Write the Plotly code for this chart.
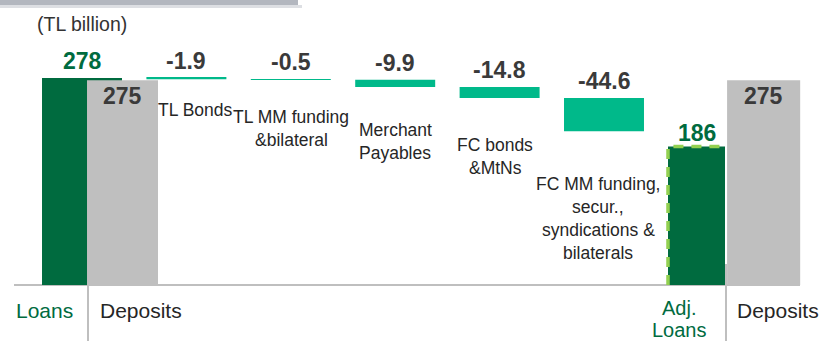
import plotly.graph_objects as go

# ---- data (TL billion) ----
unit_label = "(TL billion)"
start_label = "Loans"
start_value = 278
deposits_label = "Deposits"
deposits_value = 275
step_labels = [
    ["TL Bonds"],
    ["TL MM funding", "&bilateral"],
    ["Merchant", "Payables"],
    ["FC bonds", "&MtNs"],
    ["FC MM funding,", "secur.,", "syndications &", "bilaterals"],
]
step_values = [-1.9, -0.5, -9.9, -14.8, -44.6]
end_label = ["Adj.", "Loans"]
end_value = 186

# ---- layout constants ----
W, H = 824, 341
PLOT_H = 285                  # plot area height in px (baseline at bottom)
SLOT0_PX, SLOT_PX = 82, 104.4  # x of first slot centre, slot spacing
PX_PER_UNIT = 0.745

GREEN = "#006B3F"
TEAL = "#00B98A"
GREY = "#BFBFBF"
LIME = "#92D050"
TXT = "#262626"
NUM = "#3A3A3A"

FONT = "Liberation Sans, Arial, sans-serif"


def px(p):
    return p / W


def py(p):
    return (PLOT_H - p) / PLOT_H


STEP_W, STEP_OFF = 0.766, -0.383
DEP1_OFF, DEP1_W = 0.048, 0.68
ADJ_OFF, ADJ_W = -0.387, 0.546
DEP2_OFF, DEP2_W = 0.179, 0.70

n_steps = len(step_values)
end_slot = n_steps + 1

# running totals for the floating steps
bases = []
run = start_value
for v in step_values:
    bases.append(run)
    run += v

fig = go.Figure()

fig.add_trace(go.Bar(x=[0], y=[start_value], width=STEP_W, offset=STEP_OFF,
                     marker=dict(color=GREEN, line=dict(width=0))))
fig.add_trace(go.Bar(x=[0], y=[deposits_value], width=DEP1_W, offset=DEP1_OFF,
                     marker=dict(color=GREY, line=dict(width=0))))
fig.add_trace(go.Bar(x=list(range(1, n_steps + 1)), y=step_values, base=bases,
                     width=STEP_W, offset=STEP_OFF,
                     marker=dict(color=TEAL, line=dict(width=0))))
fig.add_trace(go.Bar(x=[end_slot], y=[end_value], width=ADJ_W, offset=ADJ_OFF,
                     marker=dict(color=GREEN, line=dict(width=0))))
# dashed outline on the adjusted-loans bar
xl = end_slot + ADJ_OFF
xr = end_slot + ADJ_OFF + ADJ_W
fig.add_trace(go.Scatter(x=[xl, xl, xr], y=[0, end_value, end_value], mode="lines",
                         line=dict(color=LIME, width=3.5, dash="10px,8px"),
                         hoverinfo="skip", cliponaxis=False))
fig.add_trace(go.Bar(x=[end_slot], y=[deposits_value], width=DEP2_W, offset=DEP2_OFF,
                     marker=dict(color=GREY, line=dict(width=0))))

annotations = []


def num_label(x, y, text, color, anchor="bottom", shift=0):
    annotations.append(dict(
        x=x, y=y, xref="x", yref="y", text=text, showarrow=False,
        xanchor="center", yanchor=anchor, yshift=shift,
        font=dict(family=FONT, size=23, color=color, weight="bold")))


num_label(0, start_value, f"{start_value:.0f}", GREEN, shift=2)
num_label(DEP1_OFF + DEP1_W / 2, deposits_value, f"{deposits_value:.0f}", NUM, "top", -1)
for i, (b, v) in enumerate(zip(bases, step_values)):
    num_label(i + 1, b, f"{v:.1f}", NUM, shift=2)
num_label(end_slot + ADJ_OFF + ADJ_W / 2, end_value, f"{end_value:.0f}", GREEN, shift=-2)
num_label(end_slot + DEP2_OFF + DEP2_W / 2, deposits_value, f"{deposits_value:.0f}", NUM, "top", -1)

# step caption placement: (centre x px, first line centre y px)
step_caption_pos = [(195, 110), (291, 117), (395, 130), (495, 145), (598, 184)]
LINE_PX = 23
for lines, (cx, cy) in zip(step_labels, step_caption_pos):
    for k, line in enumerate(lines):
        annotations.append(dict(
            x=px(cx), y=py(cy + k * LINE_PX), xref="paper", yref="paper",
            text=line, showarrow=False, xanchor="center", yanchor="middle",
            font=dict(family=FONT, size=17.5, color=TXT)))


def bottom_label(text, cx, cy, color, size=21):
    annotations.append(dict(
        x=px(cx), y=py(cy), xref="paper", yref="paper", text=text,
        showarrow=False, xanchor="center", yanchor="middle", borderpad=0,
        font=dict(family=FONT, size=size, color=color)))


bottom_label(start_label, 44, 310, GREEN)
bottom_label(deposits_label, 141, 310, TXT)
bottom_label(end_label[0], 679, 308, GREEN, 20)
bottom_label(end_label[1], 679, 330, GREEN, 20)
bottom_label(deposits_label, 778, 310, TXT)

annotations.append(dict(
    x=px(82), y=py(24), xref="paper", yref="paper", text=unit_label,
    showarrow=False, xanchor="center", yanchor="middle",
    font=dict(family=FONT, size=19.5, color="#333333")))

shapes = [
    # header tab edge
    dict(type="rect", xref="paper", yref="paper", x0=px(-4), x1=px(298),
         y0=py(-4), y1=py(5), fillcolor="#B3B7BF", line=dict(width=0), layer="below"),
    dict(type="rect", xref="paper", yref="paper", x0=px(-4), x1=px(302),
         y0=py(5), y1=py(8), fillcolor="#DDDFE3", line=dict(width=0), layer="below"),
    # baseline
    dict(type="line", xref="paper", yref="paper", x0=px(14), x1=px(800),
         y0=py(285), y1=py(285), line=dict(color=GREY, width=2), layer="below"),
    # separators between bottom labels
    dict(type="line", xref="paper", yref="paper", x0=px(88), x1=px(88),
         y0=py(286), y1=py(341), line=dict(color=GREY, width=2)),
    dict(type="line", xref="paper", yref="paper", x0=px(726), x1=px(726),
         y0=py(264), y1=py(341), line=dict(color=GREY, width=2)),
]

fig.update_layout(
    width=W, height=H,
    margin=dict(l=0, r=0, t=0, b=H - PLOT_H),
    paper_bgcolor="white", plot_bgcolor="white",
    barmode="overlay", showlegend=False,
    xaxis=dict(range=[-SLOT0_PX / SLOT_PX, (W - SLOT0_PX) / SLOT_PX],
               visible=False, fixedrange=True),
    yaxis=dict(range=[0, PLOT_H / PX_PER_UNIT], visible=False, fixedrange=True),
    annotations=annotations, shapes=shapes,
)

fig.write_html("out.html")
